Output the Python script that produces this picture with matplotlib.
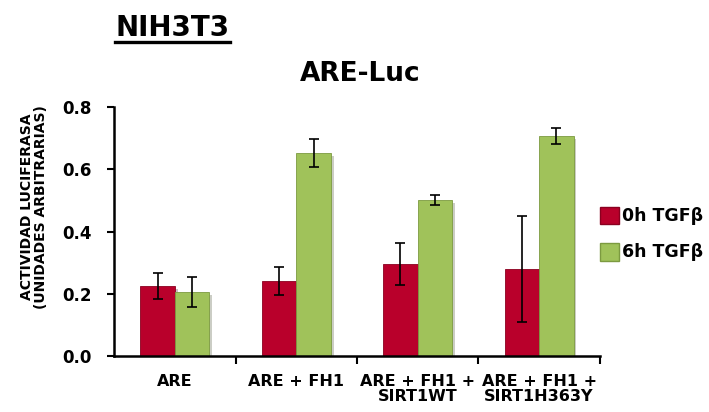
import numpy as np
import matplotlib
matplotlib.use('Agg')
import matplotlib.pyplot as plt
import matplotlib.patheffects as pe
from matplotlib.patches import Patch

plt.rcParams['font.family'] = ['DejaVu Sans']

# datos
grupos = ["ARE", "ARE + FH1", "ARE + FH1 +\nSIRT1WT", "ARE + FH1 +\nSIRT1H363Y"]
tgf_0h = [0.225, 0.241, 0.296, 0.280]
tgf_0h_err = [0.042, 0.046, 0.067, 0.170]
tgf_6h = [0.206, 0.652, 0.501, 0.707]
tgf_6h_err = [0.048, 0.045, 0.016, 0.027]
series = ["0h TGFβ", "6h TGFβ"]

rojo = '#B9002B'
verde = '#A0C25A'

fig = plt.figure(figsize=(7.09, 4.12), dpi=100)
ax = fig.add_axes([0.161, 0.136, 0.685, 0.604])

x = np.arange(len(grupos))
w = 0.285
sombra = [pe.SimplePatchShadow(offset=(2, -2), alpha=0.25), pe.Normal()]
ekw = dict(ecolor='black', elinewidth=1.2, capsize=3.5, capthick=1.2)

b1 = ax.bar(x - w / 2, tgf_0h, w, color=rojo, edgecolor='#8A0020', linewidth=0.6,
            yerr=tgf_0h_err, error_kw=ekw)
b2 = ax.bar(x + w / 2, tgf_6h, w, color=verde, edgecolor='#7C9A40', linewidth=0.6,
            yerr=tgf_6h_err, error_kw=ekw)
for b in list(b1) + list(b2):
    b.set_path_effects(sombra)

ax.set_xlim(-0.5, 3.5)
ax.set_ylim(0, 0.8)
ax.set_yticks([0.0, 0.2, 0.4, 0.6, 0.8])
ax.set_yticklabels(["0.0", "0.2", "0.4", "0.6", "0.8"], fontsize=12, fontweight='bold')
ax.set_xticks(x)
ax.set_xticklabels(grupos, fontsize=11.5, fontweight='bold', linespacing=1.0)
ax.set_xticks(np.arange(0.5, 3.6, 1), minor=True)
ax.tick_params(axis='x', which='major', length=0, pad=13)
ax.tick_params(axis='x', which='minor', length=6, width=1.5, direction='out')
ax.tick_params(axis='y', length=5, width=1.5, direction='out', pad=11)

for s in ['top', 'right']:
    ax.spines[s].set_visible(False)
for s in ['left', 'bottom']:
    ax.spines[s].set_linewidth(1.8)

fig.text(34 / 709, 1 - 207 / 412, "ACTIVIDAD LUCIFERASA\n(UNIDADES ARBITRARIAS)",
         fontsize=10, fontweight='bold', linespacing=1.0, rotation=90,
         ha='center', va='center')

fig.text(0.508, 0.820, "ARE-Luc", fontsize=19, fontweight='bold', ha='center', va='center')
fig.text(0.243, 0.933, "NIH3T3", fontsize=20, fontweight='bold', ha='center', va='center')
fig.add_artist(plt.Line2D([0.162, 0.325], [0.897, 0.897], color='black', linewidth=2.4))

handles = [Patch(facecolor=rojo, edgecolor='#8A0020'), Patch(facecolor=verde, edgecolor='#7C9A40')]
ax.legend(handles, series, loc='center left', bbox_to_anchor=(1.0, 0.49), frameon=False,
          prop=dict(size=12.5, weight='bold'), handlelength=1.1, handleheight=1.2,
          handletextpad=0.2, labelspacing=1.0, borderpad=0, borderaxespad=0)

fig.savefig("out.png", dpi=100)
